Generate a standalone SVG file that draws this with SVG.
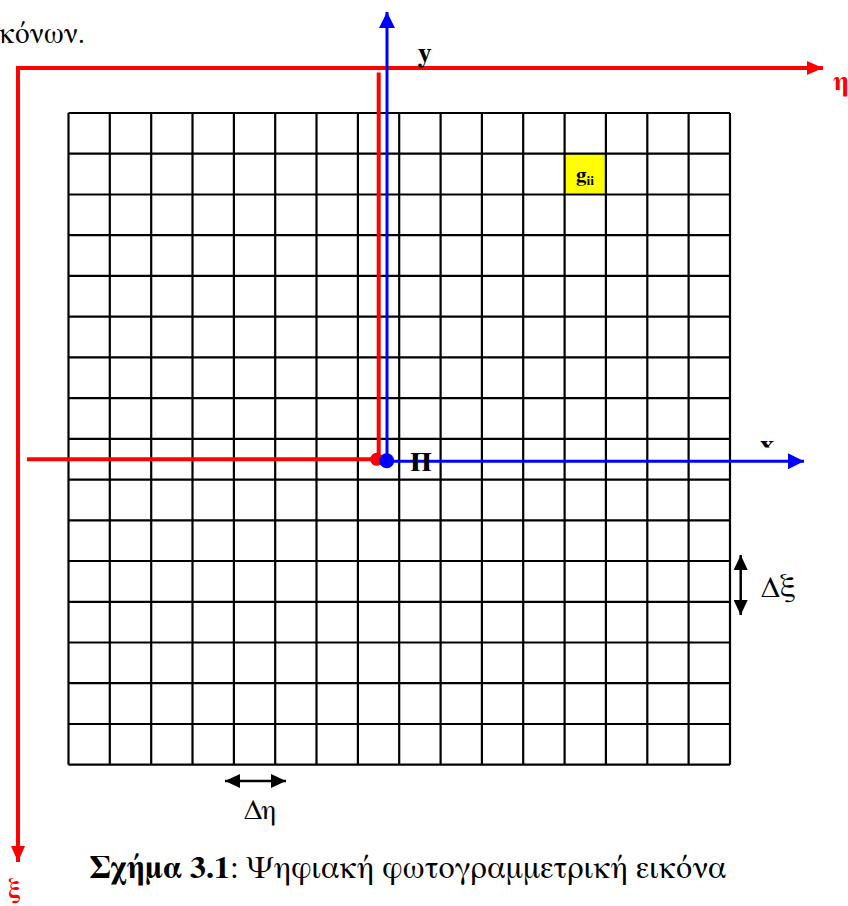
<svg xmlns="http://www.w3.org/2000/svg" width="848" height="906" viewBox="0 0 848 906">
<style>
.grid{stroke:#000;stroke-width:2.2;fill:none}
.red{stroke:#ff0000;stroke-width:4;fill:none}
.blue{stroke:#0000ff;stroke-width:3;fill:none}
.blk{stroke:#000;stroke-width:2.5;fill:none}
</style>
<defs>
<marker id="ar" viewBox="0 0 16 14" refX="16" refY="7" markerWidth="16" markerHeight="14" markerUnits="userSpaceOnUse" orient="auto"><path d="M0,0L16,7L0,14Z" fill="#ff0000"/></marker>
<marker id="ab" viewBox="0 0 16 16" refX="16" refY="8" markerWidth="16" markerHeight="16" markerUnits="userSpaceOnUse" orient="auto"><path d="M0,0L16,8L0,16Z" fill="#0000ff"/></marker>
<marker id="ak" viewBox="0 0 15 14" refX="15" refY="7" markerWidth="15" markerHeight="14" markerUnits="userSpaceOnUse" orient="auto-start-reverse"><path d="M0,0L15,7L0,14Z" fill="#000"/></marker>
<clipPath id="cPi"><rect x="400" y="451" width="40" height="30"/></clipPath>
<clipPath id="cX"><rect x="750" y="430" width="40" height="17.5"/></clipPath>
</defs>
<rect width="848" height="906" fill="#fff"/>
<text x="85" y="43" font-size="29" text-anchor="end" font-family="FreeSerif, Liberation Serif, serif">κόνων.</text>
<g id="image-grid">
<rect x="564.6" y="153.7" width="41.3" height="40.8" fill="#ffff00"/>
<path class="grid" d="M68.5,113V764.7M109.8,113V764.7M151.2,113V764.7M192.5,113V764.7M233.9,113V764.7M275.2,113V764.7M316.5,113V764.7M357.9,113V764.7M399.2,113V764.7M440.6,113V764.7M481.9,113V764.7M523.2,113V764.7M564.6,113V764.7M605.9,113V764.7M647.3,113V764.7M688.6,113V764.7M730,113V764.7M68.5,113H730M68.5,153.7H730M68.5,194.5H730M68.5,235.2H730M68.5,275.9H730M68.5,316.7H730M68.5,357.4H730M68.5,398.1H730M68.5,438.8H730M68.5,479.6H730M68.5,520.3H730M68.5,561H730M68.5,601.8H730M68.5,642.5H730M68.5,683.2H730M68.5,724H730M68.5,764.7H730"/>
</g>
<g id="pixel-gij">
<text x="576" y="182" font-size="21" font-weight="bold" font-family="FreeSerif, Liberation Serif, serif">g<tspan font-size="13" dy="3">ii</tspan></text>
</g>
<g id="connectors">
<path class="red" d="M18,862V68H823" marker-end="url(#ar)"/>
<path class="red" d="M18,70V862" marker-end="url(#ar)"/>
<path class="red" d="M378.7,72.5V459.3"/>
<path class="red" d="M27,459.3H377"/>
<path class="blue" d="M387,460.7V12" marker-end="url(#ab)"/>
<path class="blue" d="M387,461.3H804" marker-end="url(#ab)"/>
<path class="blk" d="M740.7,585V555" marker-end="url(#ak)"/>
<path class="blk" d="M740.7,585V615" marker-end="url(#ak)"/>
<path class="blk" d="M255,781H225" marker-end="url(#ak)"/>
<path class="blk" d="M255,781H286" marker-end="url(#ak)"/>
</g>
<g id="origin">
<circle cx="376.7" cy="459.3" r="6.5" fill="#ff0000"/>
<circle cx="386.7" cy="460.7" r="7.5" fill="#0000ff"/>
<text x="410" y="471" font-size="27" font-weight="bold" font-family="FreeSerif, Liberation Serif, serif" clip-path="url(#cPi)">Π</text>
</g>
<g id="labels">
<text x="418" y="62" font-size="28" font-weight="bold" font-family="FreeSerif, Liberation Serif, serif">y</text>
<text x="760" y="454" font-size="28" font-weight="bold" font-family="FreeSerif, Liberation Serif, serif" clip-path="url(#cX)">x</text>
<text x="833" y="90" font-size="28" font-weight="bold" font-family="FreeSerif, Liberation Serif, serif" fill="#ff0000">η</text>
<text x="8" y="898" font-size="27" font-weight="bold" font-family="FreeSerif, Liberation Serif, serif" fill="#ff0000">ξ</text>
<text x="761" y="597" font-size="29" font-family="FreeSerif, Liberation Serif, serif">Δξ</text>
<text x="244" y="819" font-size="28" font-family="FreeSerif, Liberation Serif, serif">Δη</text>
</g>
<g id="caption">
<text y="878" font-size="32" font-family="FreeSerif, Liberation Serif, serif"><tspan x="90" font-weight="bold">Σχήμα 3.1</tspan><tspan>: Ψηφιακή φωτογραμμετρική εικόνα</tspan></text>
</g>
</svg>
